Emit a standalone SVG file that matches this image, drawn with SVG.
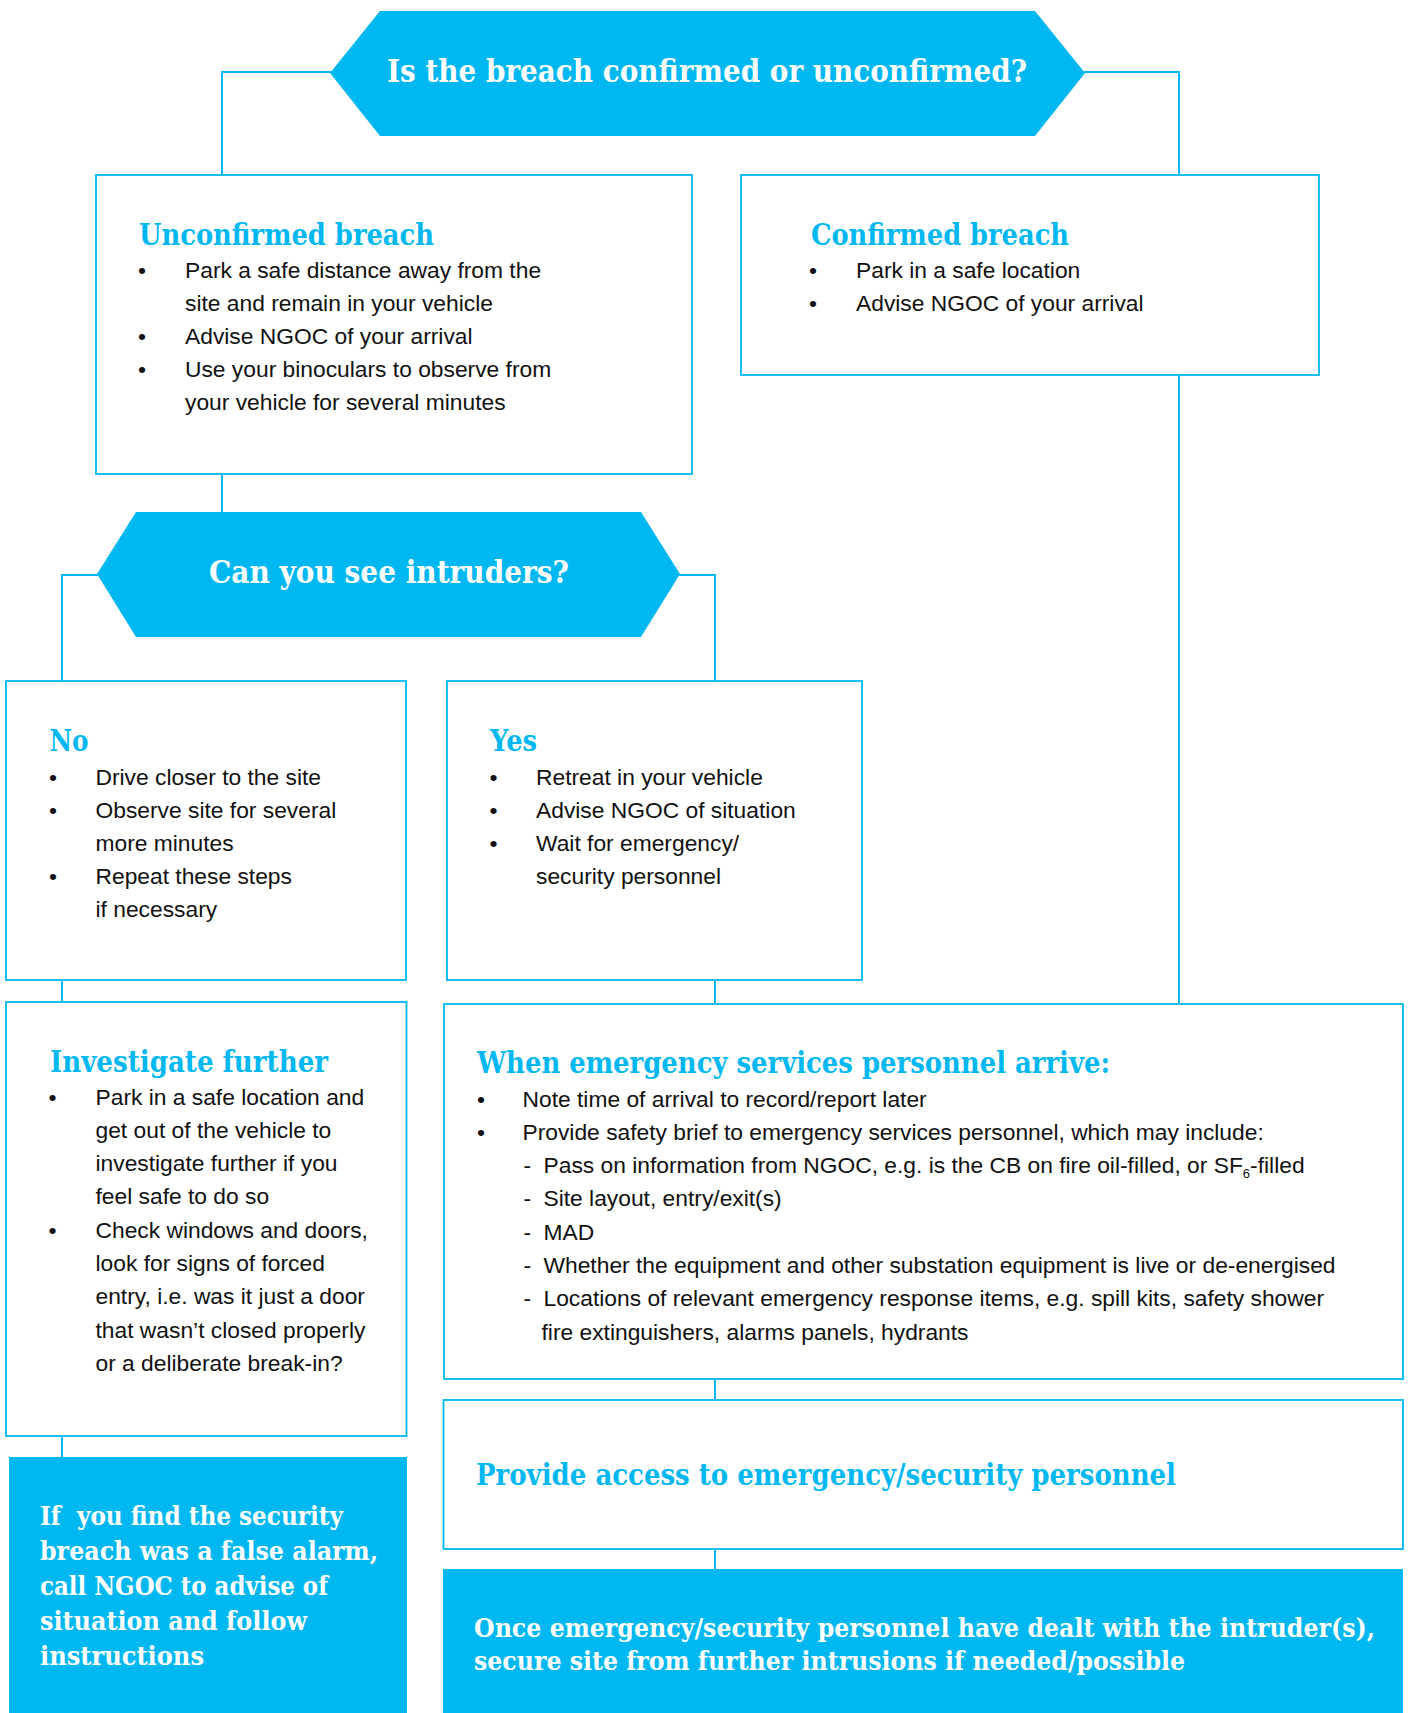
<svg xmlns="http://www.w3.org/2000/svg" width="1408" height="1713" viewBox="0 0 1408 1713">
<style>
.box{fill:#ffffff;stroke:#00b8f1;stroke-width:1.8}
.fill{fill:#00b8f1}
.con{fill:none;stroke:#00b8f1;stroke-width:2}
.t{font-family:"DejaVu Serif","Liberation Serif",serif;font-weight:bold;fill:#00b8f1}
.tw{font-family:"DejaVu Serif","Liberation Serif",serif;font-weight:bold;fill:#ffffff}
.b{font-family:"Liberation Sans",Arial,sans-serif;font-size:22.8px;fill:#111111}
</style>
<rect width="1408" height="1713" fill="#ffffff"/>
<g id="connectors">
<path class="con" d="M222 175 V72 H331"/>
<path class="con" d="M1084 72 H1179 V175"/>
<path class="con" d="M222 474 V512"/>
<path class="con" d="M98 575 H62 V681"/>
<path class="con" d="M679 575 H715 V681"/>
<path class="con" d="M62 980 V1002"/>
<path class="con" d="M715 980 V1004"/>
<path class="con" d="M1179 375 V1004"/>
<path class="con" d="M62 1436 V1457"/>
<path class="con" d="M715 1379 V1400"/>
<path class="con" d="M715 1549 V1569"/>
</g>
<g id="q1">
<polygon class="fill" points="330,73 380,11 1035,11 1085,73 1035,136 380,136"/>
<text class="tw" x="387" y="82" font-size="32" textLength="640" lengthAdjust="spacingAndGlyphs">Is the breach confirmed or unconfirmed?</text>
</g>
<g id="unconfirmed">
<rect class="box" x="96" y="175" width="596" height="299"/>
<text class="t" x="139" y="245" font-size="29" textLength="295" lengthAdjust="spacingAndGlyphs">Unconfirmed breach</text>
<text class="b" x="138" y="278">•</text>
<text class="b" x="185" y="278">Park a safe distance away from the</text>
<text class="b" x="185" y="311">site and remain in your vehicle</text>
<text class="b" x="138" y="344">•</text>
<text class="b" x="185" y="344">Advise NGOC of your arrival</text>
<text class="b" x="138" y="377">•</text>
<text class="b" x="185" y="377">Use your binoculars to observe from</text>
<text class="b" x="185" y="410">your vehicle for several minutes</text>
</g>
<g id="confirmed">
<rect class="box" x="741" y="175" width="578" height="200"/>
<text class="t" x="811" y="245" font-size="29" textLength="258" lengthAdjust="spacingAndGlyphs">Confirmed breach</text>
<text class="b" x="809" y="278">•</text>
<text class="b" x="856" y="278">Park in a safe location</text>
<text class="b" x="809" y="311">•</text>
<text class="b" x="856" y="311">Advise NGOC of your arrival</text>
</g>
<g id="q2">
<polygon class="fill" points="97,574 136,512 641,512 680,574 641,637 136,637"/>
<text class="tw" x="209" y="583" font-size="32" textLength="360" lengthAdjust="spacingAndGlyphs">Can you see intruders?</text>
</g>
<g id="no">
<rect class="box" x="6" y="681" width="400" height="299"/>
<text class="t" x="49.5" y="751" font-size="29" textLength="39" lengthAdjust="spacingAndGlyphs">No</text>
<text class="b" x="49" y="784.5">•</text>
<text class="b" x="95.5" y="784.5">Drive closer to the site</text>
<text class="b" x="49" y="817.5">•</text>
<text class="b" x="95.5" y="817.5">Observe site for several</text>
<text class="b" x="95.5" y="850.5">more minutes</text>
<text class="b" x="49" y="883.5">•</text>
<text class="b" x="95.5" y="883.5">Repeat these steps</text>
<text class="b" x="95.5" y="916.5">if necessary</text>
</g>
<g id="yes">
<rect class="box" x="447" y="681" width="415" height="299"/>
<text class="t" x="490" y="751" font-size="29" textLength="47" lengthAdjust="spacingAndGlyphs">Yes</text>
<text class="b" x="489.5" y="784.5">•</text>
<text class="b" x="536" y="784.5">Retreat in your vehicle</text>
<text class="b" x="489.5" y="817.5">•</text>
<text class="b" x="536" y="817.5">Advise NGOC of situation</text>
<text class="b" x="489.5" y="850.5">•</text>
<text class="b" x="536" y="850.5">Wait for emergency/</text>
<text class="b" x="536" y="883.5">security personnel</text>
</g>
<g id="investigate">
<rect class="box" x="6" y="1002" width="400.5" height="434"/>
<text class="t" x="50" y="1072" font-size="29" textLength="278" lengthAdjust="spacingAndGlyphs">Investigate further</text>
<text class="b" x="48.5" y="1104.5">•</text>
<text class="b" x="95.5" y="1104.5">Park in a safe location and</text>
<text class="b" x="95.5" y="1137.8">get out of the vehicle to</text>
<text class="b" x="95.5" y="1171.1">investigate further if you</text>
<text class="b" x="95.5" y="1204.4">feel safe to do so</text>
<text class="b" x="48.5" y="1237.7">•</text>
<text class="b" x="95.5" y="1237.7">Check windows and doors,</text>
<text class="b" x="95.5" y="1271">look for signs of forced</text>
<text class="b" x="95.5" y="1304.3">entry, i.e. was it just a door</text>
<text class="b" x="95.5" y="1337.6">that wasn’t closed properly</text>
<text class="b" x="95.5" y="1370.9">or a deliberate break-in?</text>
</g>
<g id="falsealarm">
<rect class="fill" x="9" y="1457" width="398" height="256"/>
<text class="tw" x="40" y="1525" font-size="26" textLength="303" lengthAdjust="spacingAndGlyphs">If&#160; you find the security</text>
<text class="tw" x="40" y="1560" font-size="26" textLength="338" lengthAdjust="spacingAndGlyphs">breach was a false alarm,</text>
<text class="tw" x="40" y="1595" font-size="26" textLength="288" lengthAdjust="spacingAndGlyphs">call NGOC to advise of</text>
<text class="tw" x="40" y="1630" font-size="26" textLength="267" lengthAdjust="spacingAndGlyphs">situation and follow</text>
<text class="tw" x="40" y="1665" font-size="26" textLength="164" lengthAdjust="spacingAndGlyphs">instructions</text>
</g>
<g id="emergency">
<rect class="box" x="444" y="1004" width="959" height="375"/>
<text class="t" x="477" y="1073" font-size="29" textLength="633" lengthAdjust="spacingAndGlyphs">When emergency services personnel arrive:</text>
<text class="b" x="477" y="1106.7">•</text>
<text class="b" x="522.5" y="1106.7">Note time of arrival to record/report later</text>
<text class="b" x="477" y="1140">•</text>
<text class="b" x="522.5" y="1140">Provide safety brief to emergency services personnel, which may include:</text>
<text class="b" x="523.5" y="1173">-</text>
<text class="b" x="543.5" y="1173">Pass on information from NGOC, e.g. is the CB on fire oil-filled, or SF<tspan font-size="13" dy="5">6</tspan><tspan dy="-5">-filled</tspan></text>
<text class="b" x="523.5" y="1206.3">-</text>
<text class="b" x="543.5" y="1206.3">Site layout, entry/exit(s)</text>
<text class="b" x="523.5" y="1239.6">-</text>
<text class="b" x="543.5" y="1239.6">MAD</text>
<text class="b" x="523.5" y="1272.9">-</text>
<text class="b" x="543.5" y="1272.9">Whether the equipment and other substation equipment is live or de-energised</text>
<text class="b" x="523.5" y="1306.2">-</text>
<text class="b" x="543.5" y="1306.2">Locations of relevant emergency response items, e.g. spill kits, safety shower</text>
<text class="b" x="541.5" y="1339.5">fire extinguishers, alarms panels, hydrants</text>
</g>
<g id="access">
<rect class="box" x="443.5" y="1400" width="959.5" height="149"/>
<text class="t" x="476" y="1485" font-size="29" textLength="700" lengthAdjust="spacingAndGlyphs">Provide access to emergency/security personnel</text>
</g>
<g id="secure">
<rect class="fill" x="443" y="1569" width="960" height="144"/>
<text class="tw" x="474" y="1637" font-size="26" textLength="901" lengthAdjust="spacingAndGlyphs">Once emergency/security personnel have dealt with the intruder(s),</text>
<text class="tw" x="474" y="1670" font-size="26" textLength="711" lengthAdjust="spacingAndGlyphs">secure site from further intrusions if needed/possible</text>
</g>
</svg>
